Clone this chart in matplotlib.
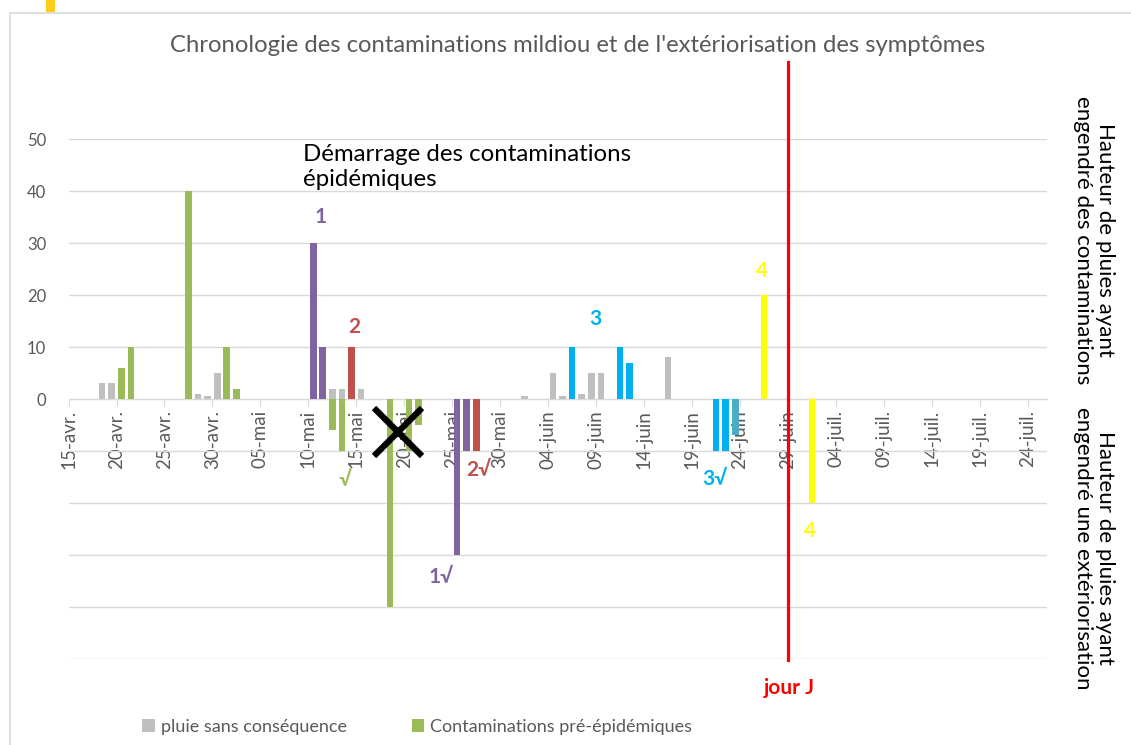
import matplotlib.pyplot as plt
from matplotlib.patches import Rectangle
import pandas as pd

START = '2021-04-15'

# pluie sans conséquence (gris)
pluie_dates = ['04-18', '04-19', '04-28', '04-29', '04-30', '05-12', '05-13', '05-15',
               '06-01', '06-04', '06-05', '06-07', '06-08', '06-09', '06-16']
pluie_vals = [3, 3, 1, 0.5, 5, 2, 2, 2, 0.5, 5, 0.5, 1, 5, 5, 8]

# contaminations pré-épidémiques et leur extériorisation (vert)
pre_dates = ['04-20', '04-21', '04-27', '05-01', '05-02']
pre_vals = [6, 10, 40, 10, 2]
pre_ext_dates = ['05-12', '05-13', '05-18', '05-20', '05-21']
pre_ext_vals = [-6, -10, -40, -10, -5]

# contaminations épidémiques 1 à 4
c1_dates, c1_vals = ['05-10', '05-11'], [30, 10]
e1_dates, e1_vals = ['05-25', '05-26'], [-30, -10]
c2_dates, c2_vals = ['05-14'], [10]
e2_dates, e2_vals = ['05-27'], [-10]
c3_dates, c3_vals = ['06-06', '06-11', '06-12'], [10, 10, 7]
e3_dates, e3_vals = ['06-21', '06-22'], [-10, -10]
e3b_dates, e3b_vals = ['06-23'], [-7]
c4_dates, c4_vals = ['06-26'], [20]
e4_dates, e4_vals = ['07-01'], [-20]

jour_j = '06-29'

tick_labels = ['15-avr.', '20-avr.', '25-avr.', '30-avr.', '05-mai', '10-mai', '15-mai',
               '20-mai', '25-mai', '30-mai', '04-juin', '09-juin', '14-juin', '19-juin',
               '24-juin', '29-juin', '04-juil.', '09-juil.', '14-juil.', '19-juil.', '24-juil.']

GREY = '#BFBFBF'
GREEN = '#9BBB59'
PURPLE = '#8064A2'
RED = '#C0504D'
BLUE = '#00B0F0'
TEAL = '#4BACC6'
YELLOW = '#FFFF00'
TXT = '#595959'


def day(md):
    return (pd.Timestamp('2021-' + md) - pd.Timestamp(START)).days


def days(lst):
    return [day(d) + 0.5 for d in lst]


plt.rcParams['font.family'] = ['Lato', 'DejaVu Sans']

fig = plt.figure(figsize=(11.31, 7.45), dpi=100)
ax = fig.add_axes([0.0606, 0.1154, 0.8651, 0.698])

# chart border + small yellow mark
fig.patches.append(Rectangle((10 / 1131, -0.1), 1.2, 1 - 12.5 / 745 + 0.1, transform=fig.transFigure,
                             fill=False, edgecolor='#D9D9D9', linewidth=1.2))
fig.patches.append(Rectangle((46 / 1131, 1 - 12 / 745), 9 / 1131, 12 / 745, transform=fig.transFigure,
                             facecolor='#FFCC1A', edgecolor='none'))

w = 0.7
b1 = ax.bar(days(pluie_dates), pluie_vals, w, color=GREY, label='pluie sans conséquence', zorder=3)
b2 = ax.bar(days(pre_dates), pre_vals, w, color=GREEN, label='Contaminations pré-épidémiques', zorder=3)
ax.bar(days(pre_ext_dates), pre_ext_vals, w, color=GREEN, zorder=3)
ax.bar(days(c1_dates), c1_vals, w, color=PURPLE, zorder=3)
ax.bar(days(e1_dates), e1_vals, w, color=PURPLE, zorder=3)
ax.bar(days(c2_dates), c2_vals, w, color=RED, zorder=3)
ax.bar(days(e2_dates), e2_vals, w, color=RED, zorder=3)
ax.bar(days(c3_dates), c3_vals, w, color=BLUE, zorder=3)
ax.bar(days(e3_dates), e3_vals, w, color=BLUE, zorder=3)
ax.bar(days(e3b_dates), e3b_vals, w, color=TEAL, zorder=3)
ax.bar(days(c4_dates), c4_vals, w, color=YELLOW, zorder=3)
ax.bar(days(e4_dates), e4_vals, w, color=YELLOW, zorder=3)

# jour J
jj = day(jour_j)
ax.plot([jj, jj], [-50.2, 64.8], color='#FF0000', lw=2.3, clip_on=False, zorder=4)
ax.text(jj + 0.1, -55.6, 'jour J', color='#FF0000', fontsize=15, fontweight='bold',
        ha='center', va='center')

ax.set_xlim(0, 102)
ax.set_ylim(-50, 50)

# axe des x sur la ligne zéro (avant de régler les ticks, set_position les réinitialise)
ax.spines['bottom'].set_position(('data', 0))
ax.spines['bottom'].set_color('#D9D9D9')
for s in ['top', 'right', 'left']:
    ax.spines[s].set_visible(False)

ax.set_xticks(range(0, 101, 5))
ax.set_xticklabels(tick_labels, rotation=90, color=TXT, fontsize=13.5)
yt = list(range(-50, 51, 10))
ax.set_yticks(yt)
ax.set_yticklabels([str(v) if v >= 0 else '' for v in yt], color=TXT, fontsize=12)
ax.tick_params(axis='y', length=0, pad=16)
ax.tick_params(axis='x', length=5, color='#D9D9D9', pad=3)

ax.grid(axis='y', color='#D9D9D9', lw=1)
ax.set_axisbelow(True)

# annotations
lab = dict(fontsize=15, fontweight='bold', ha='center', va='center')
ax.text(26.3, 35, '1', color=PURPLE, **lab)
ax.text(29.8, 13.8, '2', color=RED, **lab)
ax.text(28.8, -15.4, '√', color=GREEN, **lab)
ax.text(38.8, -34.2, '1√', color=PURPLE, **lab)
ax.text(42.8, -13.7, '2√', color=RED, **lab)
ax.text(54.9, 15.4, '3', color=BLUE, **lab)
ax.text(67.4, -15.4, '3√', color=BLUE, **lab)
ax.text(72.3, 24.6, '4', color=YELLOW, **lab)
ax.text(77.3, -25.4, '4', color=YELLOW, **lab)
ax.plot(34.3, -6.3, marker='x', ms=34, mew=4.5, color='black', zorder=5)

ax.text(24.4, 49, 'Démarrage des contaminations\népidémiques', fontsize=17.3,
        color='black', ha='left', va='top', linespacing=1.2)

fig.text(578 / 1131, 1 - 45 / 745, "Chronologie des contaminations mildiou et de l'extériorisation des symptômes",
         ha='center', va='center', fontsize=17.2, color=TXT)

fig.text(1094 / 1131, 1 - 240 / 745, 'Hauteur de pluies ayant\nengendré des contaminations',
         rotation=270, ha='center', va='center', fontsize=16, color='black', multialignment='center',
         linespacing=1.15)
fig.text(1094 / 1131, 1 - 548 / 745, 'Hauteur de pluies ayant\nengendré une extériorisation',
         rotation=270, ha='center', va='center', fontsize=16, color='black', multialignment='center',
         linespacing=1.15)

fig.legend(handles=[b1, b2], loc='center', bbox_to_anchor=(417 / 1131, 1 - 727 / 745), ncol=2,
           frameon=False, fontsize=13, labelcolor=TXT, handlelength=0.7, handleheight=0.7,
           handletextpad=0.3, columnspacing=3.6)

fig.savefig('out.png', dpi=100)
